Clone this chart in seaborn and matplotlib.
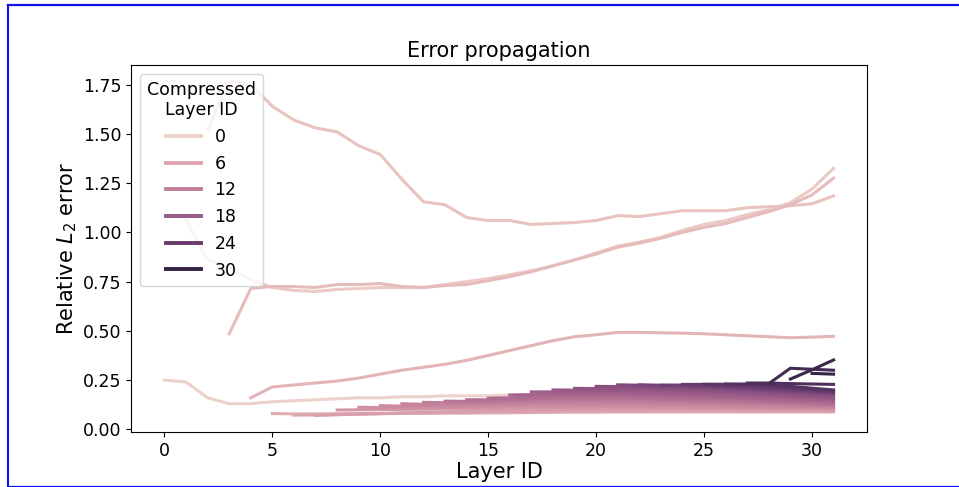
import matplotlib
matplotlib.use("Agg")
import matplotlib.pyplot as plt
import seaborn as sns
import pandas as pd
from matplotlib.lines import Line2D

# ---- data: relative L2 error per layer, one series per compressed layer id ----
err_c00 = [0.250, 0.240, 0.160, 0.130, 0.130, 0.140, 0.145, 0.150, 0.155, 0.160, 0.160,
           0.165, 0.165, 0.170, 0.170, 0.170, 0.175, 0.175, 0.175, 0.175, 0.175, 0.175,
           0.170, 0.170, 0.165, 0.165, 0.160, 0.160, 0.155, 0.155, 0.150, 0.150]
err_c01 = [1.060, 0.860, 0.820, 0.760, 0.720, 0.705, 0.700, 0.710, 0.715, 0.720, 0.720,
           0.720, 0.735, 0.750, 0.765, 0.785, 0.805, 0.830, 0.860, 0.895, 0.930, 0.950,
           0.975, 1.010, 1.040, 1.060, 1.090, 1.115, 1.150, 1.220, 1.325]
err_c02 = [1.520, 1.765, 1.750, 1.640, 1.570, 1.530, 1.510, 1.440, 1.395, 1.270, 1.155,
           1.140, 1.075, 1.060, 1.060, 1.040, 1.045, 1.050, 1.060, 1.085, 1.080, 1.095,
           1.110, 1.110, 1.110, 1.125, 1.130, 1.135, 1.145, 1.185]
err_c03 = [0.485, 0.715, 0.725, 0.725, 0.720, 0.735, 0.735, 0.740, 0.725, 0.720, 0.730,
           0.735, 0.755, 0.775, 0.800, 0.830, 0.860, 0.890, 0.925, 0.945, 0.970, 1.000,
           1.025, 1.045, 1.075, 1.105, 1.140, 1.190, 1.275]
err_c04 = [0.160, 0.215, 0.225, 0.235, 0.245, 0.260, 0.280, 0.300, 0.315, 0.330, 0.350,
           0.375, 0.400, 0.425, 0.450, 0.470, 0.480, 0.492, 0.492, 0.490, 0.488, 0.485,
           0.480, 0.475, 0.470, 0.465, 0.468, 0.472]
err_c05 = [0.080, 0.078, 0.078, 0.079, 0.080, 0.080, 0.081, 0.081, 0.082, 0.082, 0.083,
           0.084, 0.085, 0.086, 0.087, 0.087, 0.088, 0.088, 0.088, 0.088, 0.088, 0.088,
           0.088, 0.088, 0.088, 0.088, 0.088]
err_c06 = [0.072, 0.073, 0.075, 0.077, 0.079, 0.081, 0.083, 0.085, 0.086, 0.088, 0.089,
           0.090, 0.091, 0.092, 0.092, 0.093, 0.093, 0.093, 0.093, 0.093, 0.093, 0.092,
           0.092, 0.092, 0.092, 0.092]
err_c07 = [0.071, 0.074, 0.077, 0.080, 0.083, 0.086, 0.088, 0.090, 0.092, 0.094, 0.095,
           0.096, 0.097, 0.097, 0.098, 0.098, 0.098, 0.097, 0.097, 0.097, 0.096, 0.096,
           0.096, 0.095, 0.095]
err_c08 = [0.098, 0.099, 0.100, 0.101, 0.102, 0.103, 0.104, 0.105, 0.106, 0.107, 0.107,
           0.108, 0.108, 0.108, 0.107, 0.107, 0.106, 0.105, 0.104, 0.103, 0.102, 0.101,
           0.100, 0.100]
err_c09 = [0.112, 0.110, 0.110, 0.111, 0.112, 0.113, 0.114, 0.115, 0.116, 0.117, 0.117,
           0.117, 0.116, 0.115, 0.114, 0.113, 0.112, 0.111, 0.110, 0.108, 0.107, 0.106,
           0.105]
err_c10 = [0.120, 0.118, 0.118, 0.119, 0.120, 0.121, 0.123, 0.124, 0.125, 0.125, 0.125,
           0.124, 0.123, 0.122, 0.121, 0.119, 0.118, 0.116, 0.115, 0.113, 0.112, 0.110]
err_c11 = [0.130, 0.127, 0.127, 0.128, 0.129, 0.131, 0.132, 0.133, 0.134, 0.134, 0.133,
           0.132, 0.130, 0.129, 0.127, 0.125, 0.123, 0.121, 0.119, 0.117, 0.115]
err_c12 = [0.137, 0.135, 0.135, 0.137, 0.139, 0.141, 0.142, 0.143, 0.143, 0.142, 0.141,
           0.139, 0.137, 0.135, 0.133, 0.130, 0.128, 0.125, 0.122, 0.120]
err_c13 = [0.143, 0.142, 0.143, 0.145, 0.148, 0.150, 0.151, 0.151, 0.150, 0.149, 0.147,
           0.145, 0.143, 0.140, 0.138, 0.135, 0.132, 0.128, 0.125]
err_c14 = [0.150, 0.150, 0.152, 0.156, 0.158, 0.159, 0.159, 0.158, 0.157, 0.155, 0.152,
           0.150, 0.147, 0.144, 0.141, 0.137, 0.133, 0.130]
err_c15 = [0.158, 0.160, 0.164, 0.167, 0.168, 0.168, 0.167, 0.165, 0.163, 0.160, 0.157,
           0.154, 0.151, 0.147, 0.143, 0.139, 0.135]
err_c16 = [0.174, 0.176, 0.178, 0.179, 0.179, 0.178, 0.176, 0.173, 0.170, 0.167, 0.163,
           0.159, 0.155, 0.151, 0.146, 0.142]
err_c17 = [0.190, 0.190, 0.189, 0.188, 0.187, 0.185, 0.182, 0.179, 0.175, 0.171, 0.167,
           0.163, 0.159, 0.154, 0.150]
err_c18 = [0.200, 0.199, 0.198, 0.197, 0.195, 0.192, 0.189, 0.185, 0.181, 0.177, 0.172,
           0.167, 0.162, 0.158]
err_c19 = [0.208, 0.207, 0.206, 0.204, 0.201, 0.198, 0.194, 0.190, 0.185, 0.180, 0.175,
           0.170, 0.165]
err_c20 = [0.218, 0.217, 0.215, 0.212, 0.208, 0.204, 0.200, 0.195, 0.190, 0.184, 0.178,
           0.172]
err_c21 = [0.226, 0.224, 0.220, 0.216, 0.212, 0.207, 0.202, 0.196, 0.190, 0.185, 0.180]
err_c22 = [0.226, 0.224, 0.221, 0.217, 0.212, 0.207, 0.201, 0.196, 0.190, 0.185]
err_c23 = [0.224, 0.225, 0.222, 0.218, 0.213, 0.207, 0.201, 0.195, 0.188]
err_c24 = [0.228, 0.228, 0.224, 0.219, 0.213, 0.206, 0.199, 0.192]
err_c25 = [0.229, 0.229, 0.226, 0.221, 0.214, 0.205, 0.195]
err_c26 = [0.230, 0.230, 0.226, 0.218, 0.209, 0.200]
err_c27 = [0.235, 0.235, 0.232, 0.230, 0.228]
err_c28 = [0.232, 0.310, 0.305, 0.300]
err_c29 = [0.255, 0.302, 0.352]
err_c30 = [0.284, 0.280]
err_c31 = [0.260]

series = [err_c00, err_c01, err_c02, err_c03, err_c04, err_c05, err_c06, err_c07,
          err_c08, err_c09, err_c10, err_c11, err_c12, err_c13, err_c14, err_c15,
          err_c16, err_c17, err_c18, err_c19, err_c20, err_c21, err_c22, err_c23,
          err_c24, err_c25, err_c26, err_c27, err_c28, err_c29, err_c30, err_c31]
n_layers = 32

rows = []
for comp, vals in enumerate(series):
    start = n_layers - len(vals)
    for i, v in enumerate(vals):
        rows.append({"layer": start + i, "err": v, "comp": comp})
df = pd.DataFrame(rows)

# ---- figure ----
W, H = 959, 487
fig = plt.figure(figsize=(W / 100, H / 100), dpi=100)
ax = fig.add_axes([131 / W, 1 - 432 / H, (867 - 131) / W, (432 - 65) / H])

sns.lineplot(data=df, x="layer", y="err", hue="comp", ax=ax, lw=2.2)

ax.set_title("Error propagation", fontsize=15)
ax.set_xlabel("Layer ID", fontsize=15, labelpad=1.5)
ax.set_ylabel("Relative $L_2$ error", fontsize=15, labelpad=3)
ax.tick_params(labelsize=12.5)
ax.set_xticks([0, 5, 10, 15, 20, 25, 30])
ax.set_yticks([0.0, 0.25, 0.5, 0.75, 1.0, 1.25, 1.5, 1.75])

sns.move_legend(ax, "upper left", title="Compressed\nLayer ID",
                fontsize=12.5, title_fontsize=12.5)
leg = ax.get_legend()
leg._legend_box.align = "center"
leg.get_title().set_multialignment("center")
for h in leg.legend_handles:
    h.set_linewidth(2.8)

# blue screenshot frame
blue = "#1010ee"
fig.add_artist(Line2D([7.5 / W, 7.5 / W], [1 - 486 / H, 1 - 4.5 / H],
                      transform=fig.transFigure, color=blue, lw=1.5))
fig.add_artist(Line2D([7.5 / W, 1.01], [1 - 4.5 / H, 1 - 4.5 / H],
                      transform=fig.transFigure, color=blue, lw=1.6))
fig.add_artist(Line2D([7.5 / W, 1.01], [1 - 486 / H, 1 - 486 / H],
                      transform=fig.transFigure, color=blue, lw=0.9))

fig.savefig("out.png", dpi=100)
